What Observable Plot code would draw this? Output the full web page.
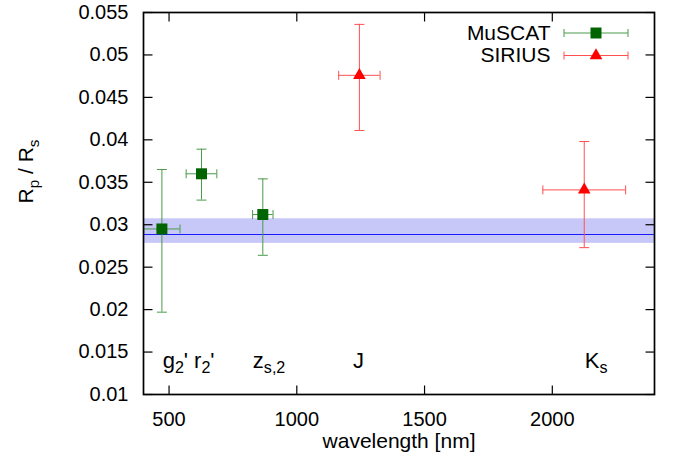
<!DOCTYPE html>
<html><head><meta charset="utf-8">
<script src="https://cdn.jsdelivr.net/npm/d3@7"></script>
<script src="https://cdn.jsdelivr.net/npm/@observablehq/plot@0.6"></script>
<style>
body{margin:0;background:#fff;}
#chart{width:680px;height:468px;}
</style></head><body><div id="chart"></div>
<script>
// ---- data ----
const muscatWavelength = [472, 627, 867];
const muscatWavelengthErr = [71, 60, 40];
const muscatRpRs = [0.0295, 0.0360, 0.0312];
const muscatRpRsLow = [0.0197, 0.0329, 0.0264];
const muscatRpRsHigh = [0.0365, 0.0389, 0.0354];

const siriusWavelength = [1245, 2125];
const siriusWavelengthErr = [81, 162];
const siriusRpRs = [0.0476, 0.0341];
const siriusRpRsLow = [0.0411, 0.0273];
const siriusRpRsHigh = [0.0536, 0.0398];

const fitRpRs = [0.02885];
const fitRpRsLow = [0.0278];
const fitRpRsHigh = [0.0307];

const bandLabels = ["g{2}'", "r{2}'", "z{s,2}", "J", "K{s}"];
const bandLabelWavelength = [475, 598, 828, 1220, 2127];
const bandLabelRpRs = [0.0140, 0.0140, 0.0140, 0.0140, 0.0140];

const seriesNames = ["MuSCAT", "SIRIUS"];
const xTicks = [500, 1000, 1500, 2000];
const yTicks = [0.01, 0.015, 0.02, 0.025, 0.03, 0.035, 0.04, 0.045, 0.05, 0.055];
const xDomain = [400, 2400];
const yDomain = [0.01, 0.055];

// ---- tables ----
const rows = (w, we, v, lo, hi) => w.map((d, i) => ({w: d, we: we[i], v: v[i], lo: lo[i], hi: hi[i]}));
const muscat = rows(muscatWavelength, muscatWavelengthErr, muscatRpRs, muscatRpRsLow, muscatRpRsHigh);
const sirius = rows(siriusWavelength, siriusWavelengthErr, siriusRpRs, siriusRpRsLow, siriusRpRsHigh);
const labels = bandLabels.map((t, i) => ({t, w: bandLabelWavelength[i], v: bandLabelRpRs[i]}));

// ---- custom symbols ----
const sym = (fn) => ({draw(ctx) { fn(ctx); }});
const capH = sym(c => { c.moveTo(-5, 0); c.lineTo(5, 0); });
const capV = sym(c => { c.moveTo(0, -4.5); c.lineTo(0, 4.5); });
const T = 9;
const tickUp = sym(c => { c.moveTo(0, 0); c.lineTo(0, -T); });
const tickDown = sym(c => { c.moveTo(0, 0); c.lineTo(0, T); });
const tickRight = sym(c => { c.moveTo(0, 0); c.lineTo(T, 0); });
const tickLeft = sym(c => { c.moveTo(0, 0); c.lineTo(-T, 0); });
const legendBar = sym(c => { c.moveTo(-32, 0); c.lineTo(32, 0); c.moveTo(-32, -4); c.lineTo(-32, 4); c.moveTo(32, -4); c.lineTo(32, 4); });

const green = "#006400", greenBar = "#4a9a4a";
const red = "#ff0000", redBar = "#ff5050";

function errorMarks(data, barColor, dotColor, symbol, r) {
  return [
    Plot.ruleX(data, {x: "w", y1: "lo", y2: "hi", stroke: barColor, strokeWidth: 1}),
    Plot.ruleY(data, {y: "v", x1: d => d.w - d.we, x2: d => d.w + d.we, stroke: barColor, strokeWidth: 1}),
    Plot.dot(data, {x: "w", y: "lo", symbol: capH, r: 1, stroke: barColor, strokeWidth: 1}),
    Plot.dot(data, {x: "w", y: "hi", symbol: capH, r: 1, stroke: barColor, strokeWidth: 1}),
    Plot.dot(data, {x: d => d.w - d.we, y: "v", symbol: capV, r: 1, stroke: barColor, strokeWidth: 1}),
    Plot.dot(data, {x: d => d.w + d.we, y: "v", symbol: capV, r: 1, stroke: barColor, strokeWidth: 1}),
    Plot.dot(data, {x: "w", y: "v", symbol, r, fill: dotColor, stroke: "none"})
  ];
}

const chart = Plot.plot({
  width: 680, height: 468,
  marginLeft: 143, marginRight: 26, marginTop: 12, marginBottom: 74,
  style: {fontFamily: "'Liberation Sans', Arial, sans-serif", background: "#fff", color: "#000"},
  x: {domain: xDomain, label: null},
  y: {domain: yDomain, label: null},
  marks: [
    Plot.rect([0], {y1: fitRpRsLow, y2: fitRpRsHigh, fill: "#c8c8f8"}),
    Plot.ruleY(fitRpRs, {stroke: "#1a1aff", strokeWidth: 1.2}),
    ...errorMarks(muscat, greenBar, green, "square", 6.2),
    ...errorMarks(sirius, redBar, red, "triangle", 4.7),
    Plot.text(labels, {x: "w", y: "v", text: "t", textAnchor: "start", lineAnchor: "middle", fontSize: 22, fill: "#000"}),
    // ticks mirrored on all sides, pointing inward
    Plot.dot(xTicks, {x: d => d, frameAnchor: "bottom", symbol: tickUp, r: 1, stroke: "#000", strokeWidth: 1.2}),
    Plot.dot(xTicks, {x: d => d, frameAnchor: "top", symbol: tickDown, r: 1, stroke: "#000", strokeWidth: 1.2}),
    Plot.dot(yTicks, {y: d => d, frameAnchor: "left", symbol: tickRight, r: 1, stroke: "#000", strokeWidth: 1.2}),
    Plot.dot(yTicks, {y: d => d, frameAnchor: "right", symbol: tickLeft, r: 1, stroke: "#000", strokeWidth: 1.2}),
    Plot.frame({stroke: "#000", strokeWidth: 1.7}),
    Plot.axisX(xTicks, {tickSize: 0, tickPadding: 17, tickFormat: d => String(d), fontSize: 20, label: null}),
    Plot.axisY(yTicks, {tickSize: 0, tickPadding: 15, tickFormat: d => String(d), fontSize: 20, label: null}),
    // axis titles
    Plot.text(["wavelength [nm]"], {frameAnchor: "bottom", lineAnchor: "middle", dy: 47, fontSize: 21, fill: "#000"}),
    Plot.text(["R{p} / R{s}"], {frameAnchor: "left", lineAnchor: "middle", dx: -117, rotate: -90, fontSize: 21, fill: "#000"}),
    // legend
    Plot.text([seriesNames[0]], {frameAnchor: "top-right", lineAnchor: "middle", dx: -104, dy: 20.5, textAnchor: "end", fontSize: 21, fill: "#000"}),
    Plot.text([seriesNames[1]], {frameAnchor: "top-right", lineAnchor: "middle", dx: -104, dy: 43, textAnchor: "end", fontSize: 21, fill: "#000"}),
    Plot.dot([0], {frameAnchor: "top-right", dx: -58.5, dy: 20.5, symbol: legendBar, r: 1, stroke: greenBar, strokeWidth: 1}),
    Plot.dot([0], {frameAnchor: "top-right", dx: -58.5, dy: 20.5, symbol: "square", r: 6.2, fill: green, stroke: "none"}),
    Plot.dot([0], {frameAnchor: "top-right", dx: -58.5, dy: 43, symbol: legendBar, r: 1, stroke: redBar, strokeWidth: 1}),
    Plot.dot([0], {frameAnchor: "top-right", dx: -58.5, dy: 43, symbol: "triangle", r: 4.7, fill: red, stroke: "none"})
  ]
});

document.getElementById("chart").appendChild(chart);

// turn {..} into subscripts
const NS = "http://www.w3.org/2000/svg";
d3.select(chart).selectAll("text").each(function () {
  const s = this.textContent;
  if (!s.includes("{")) return;
  const fs = parseFloat(getComputedStyle(this).fontSize) || 21;
  this.textContent = "";
  const parts = s.split(/(\{[^}]*\})/).filter(p => p.length);
  let shifted = false;
  for (const p of parts) {
    const t = document.createElementNS(NS, "tspan");
    if (p.startsWith("{")) {
      t.textContent = p.slice(1, -1);
      t.setAttribute("font-size", (fs * 0.73).toFixed(1));
      t.setAttribute("dy", (fs * 0.25).toFixed(1));
      shifted = true;
    } else {
      t.textContent = p;
      if (shifted) { t.setAttribute("dy", (-fs * 0.25).toFixed(1)); shifted = false; }
    }
    this.appendChild(t);
  }
});
</script>
</body></html>
